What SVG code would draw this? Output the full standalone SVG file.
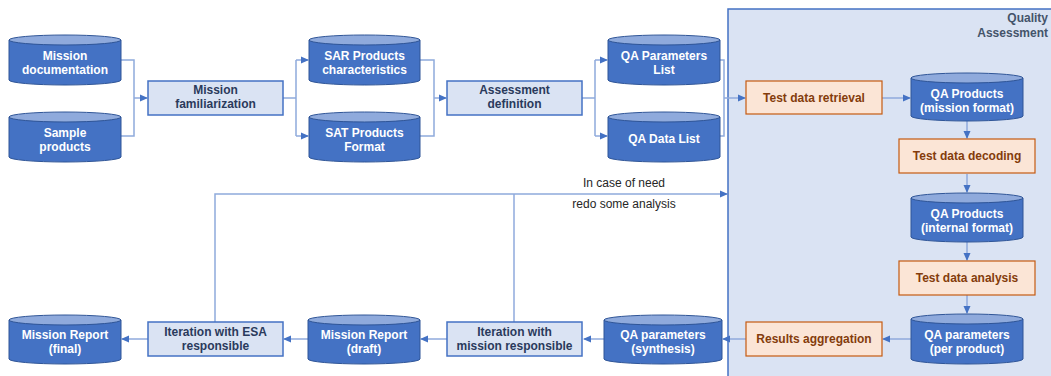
<svg xmlns="http://www.w3.org/2000/svg" width="1051" height="376" viewBox="0 0 1051 376">
<defs>
<marker id="arr" markerWidth="8" markerHeight="8" refX="7" refY="4" orient="auto" markerUnits="userSpaceOnUse">
<path d="M0,0.5 L8,4 L0,7.5 Z" fill="#4472c4"/>
</marker>
<style>
.cyl{fill:#4472c4;stroke:#2f5597;stroke-width:1}
.cyltop{fill:#8faadc;stroke:#2f5597;stroke-width:1}
.ct{font-family:"Liberation Sans",Arial,sans-serif;font-weight:bold;font-size:12px;fill:#ffffff;text-anchor:middle}
.box{fill:#dae3f3;stroke:#4472c4;stroke-width:1.5}
.bt{font-family:"Liberation Sans",Arial,sans-serif;font-weight:bold;font-size:12px;fill:#2a3a5c;text-anchor:middle}
.obox{fill:#fbe5d6;stroke:#c55a11;stroke-width:1.2}
.ot{font-family:"Liberation Sans",Arial,sans-serif;font-weight:bold;font-size:12px;fill:#843c0c;text-anchor:middle}
.ln{fill:none;stroke:#8faadc;stroke-width:1.5}
.la{fill:none;stroke:#8faadc;stroke-width:1.5;marker-end:url(#arr)}
.note{font-family:"Liberation Sans",Arial,sans-serif;font-size:12px;fill:#262626;text-anchor:middle}
.qt{font-family:"Liberation Sans",Arial,sans-serif;font-weight:bold;font-size:12px;fill:#44546a;text-anchor:end}
</style>
</defs>
<rect x="728" y="9" width="330" height="372" fill="#dae3f3" stroke="#4472c4" stroke-width="1.5"/>
<g id="qa-label">
<text class="qt" x="1048" y="22">Quality</text>
<text class="qt" x="1048" y="37">Assessment</text>
</g>
<g id="connectors">
<path class="ln" d="M121,60 H134 V136 H121"/>
<path class="la" d="M134,98 H147"/>
<path class="ln" d="M283,98 H296 M296,60 V136"/>
<path class="la" d="M296,60 H308"/>
<path class="la" d="M296,136 H308"/>
<path class="ln" d="M420,60 H434 V136 H420"/>
<path class="la" d="M434,98 H446"/>
<path class="ln" d="M582,98 H595 M595,60 V136"/>
<path class="la" d="M595,60 H607"/>
<path class="la" d="M595,136 H607"/>
<path class="ln" d="M720,60 H724 V136 H720"/>
<path class="la" d="M724,98 H745"/>
<path class="la" d="M882,98 H910"/>
<path class="la" d="M967,121 V138"/>
<path class="la" d="M967,174 V192"/>
<path class="la" d="M967,242 V260"/>
<path class="la" d="M967,295 V313"/>
<path class="la" d="M911,339 H883"/>
<path class="la" d="M746,339 H723"/>
<path class="la" d="M604,339 H584"/>
<path class="la" d="M447,339 H421"/>
<path class="la" d="M308,339 H284"/>
<path class="la" d="M148,339 H122"/>
<path class="la" d="M215,322 V194 H727"/>
<path class="ln" d="M514,322 V194"/>
</g>
<g id="feedback-label">
<text class="note" x="624" y="187">In case of need</text>
<text class="note" x="624" y="208">redo some analysis</text>
</g>
<g id="mission-documentation">
<path class="cyl" d="M9,40 V80 A56,5 0 0 0 121,80 V40 Z"/>
<ellipse class="cyltop" cx="65" cy="40" rx="56" ry="5"/>
<text class="ct" x="65" y="60">Mission</text>
<text class="ct" x="65" y="74">documentation</text>
</g>
<g id="sample-products">
<path class="cyl" d="M9,117 V157 A56,5 0 0 0 121,157 V117 Z"/>
<ellipse class="cyltop" cx="65" cy="117" rx="56" ry="5"/>
<text class="ct" x="65" y="137">Sample</text>
<text class="ct" x="65" y="151">products</text>
</g>
<g id="mission-familiarization">
<rect class="box" x="148" y="81" width="135" height="34"/>
<text class="bt" x="215.5" y="94">Mission</text>
<text class="bt" x="215.5" y="108">familiarization</text>
</g>
<g id="sar-products">
<path class="cyl" d="M309,40 V80 A55.5,5 0 0 0 420,80 V40 Z"/>
<ellipse class="cyltop" cx="364.5" cy="40" rx="55.5" ry="5"/>
<text class="ct" x="364.5" y="60">SAR Products</text>
<text class="ct" x="364.5" y="74">characteristics</text>
</g>
<g id="sat-products">
<path class="cyl" d="M309,117 V157 A55.5,5 0 0 0 420,157 V117 Z"/>
<ellipse class="cyltop" cx="364.5" cy="117" rx="55.5" ry="5"/>
<text class="ct" x="364.5" y="137">SAT Products</text>
<text class="ct" x="364.5" y="151">Format</text>
</g>
<g id="assessment-definition">
<rect class="box" x="447" y="81" width="135" height="34"/>
<text class="bt" x="514.5" y="94">Assessment</text>
<text class="bt" x="514.5" y="108">definition</text>
</g>
<g id="qa-parameters-list">
<path class="cyl" d="M608,40 V80 A56,5 0 0 0 720,80 V40 Z"/>
<ellipse class="cyltop" cx="664" cy="40" rx="56" ry="5"/>
<text class="ct" x="664" y="60">QA Parameters</text>
<text class="ct" x="664" y="74">List</text>
</g>
<g id="qa-data-list">
<path class="cyl" d="M608,117 V157 A56,5 0 0 0 720,157 V117 Z"/>
<ellipse class="cyltop" cx="664" cy="117" rx="56" ry="5"/>
<text class="ct" x="664" y="143">QA Data List</text>
</g>
<g id="test-data-retrieval">
<rect class="obox" x="746" y="81" width="136" height="33"/>
<text class="ot" x="814" y="102">Test data retrieval</text>
</g>
<g id="qa-products-mission">
<path class="cyl" d="M911,78 V116 A56,5 0 0 0 1023,116 V78 Z"/>
<ellipse class="cyltop" cx="967" cy="78" rx="56" ry="5"/>
<text class="ct" x="967" y="98">QA Products</text>
<text class="ct" x="967" y="112">(mission format)</text>
</g>
<g id="test-data-decoding">
<rect class="obox" x="899" y="139" width="136" height="34"/>
<text class="ot" x="967" y="160">Test data decoding</text>
</g>
<g id="qa-products-internal">
<path class="cyl" d="M911,198 V237 A56,5 0 0 0 1023,237 V198 Z"/>
<ellipse class="cyltop" cx="967" cy="198" rx="56" ry="5"/>
<text class="ct" x="967" y="218">QA Products</text>
<text class="ct" x="967" y="232">(internal format)</text>
</g>
<g id="test-data-analysis">
<rect class="obox" x="899" y="261" width="136" height="34"/>
<text class="ot" x="967" y="282">Test data analysis</text>
</g>
<g id="qa-parameters-per-product">
<path class="cyl" d="M911,319 V359 A56,5 0 0 0 1023,359 V319 Z"/>
<ellipse class="cyltop" cx="967" cy="319" rx="56" ry="5"/>
<text class="ct" x="967" y="339">QA parameters</text>
<text class="ct" x="967" y="353">(per product)</text>
</g>
<g id="results-aggregation">
<rect class="obox" x="746" y="322" width="136" height="34"/>
<text class="ot" x="814" y="343">Results aggregation</text>
</g>
<g id="qa-parameters-synthesis">
<path class="cyl" d="M604,320 V359 A59,5 0 0 0 722,359 V320 Z"/>
<ellipse class="cyltop" cx="663" cy="320" rx="59" ry="5"/>
<text class="ct" x="663" y="339">QA parameters</text>
<text class="ct" x="663" y="353">(synthesis)</text>
</g>
<g id="iteration-mission">
<rect class="box" x="447" y="322" width="135" height="34"/>
<text class="bt" x="514.5" y="336">Iteration with</text>
<text class="bt" x="514.5" y="350">mission responsible</text>
</g>
<g id="mission-report-draft">
<path class="cyl" d="M308,320 V359 A56,5 0 0 0 420,359 V320 Z"/>
<ellipse class="cyltop" cx="364" cy="320" rx="56" ry="5"/>
<text class="ct" x="364" y="339">Mission Report</text>
<text class="ct" x="364" y="353">(draft)</text>
</g>
<g id="iteration-esa">
<rect class="box" x="148" y="322" width="135" height="34"/>
<text class="bt" x="215.5" y="336">Iteration with ESA</text>
<text class="bt" x="215.5" y="350">responsible</text>
</g>
<g id="mission-report-final">
<path class="cyl" d="M9,320 V359 A56,5 0 0 0 121,359 V320 Z"/>
<ellipse class="cyltop" cx="65" cy="320" rx="56" ry="5"/>
<text class="ct" x="65" y="339">Mission Report</text>
<text class="ct" x="65" y="353">(final)</text>
</g>
</svg>
